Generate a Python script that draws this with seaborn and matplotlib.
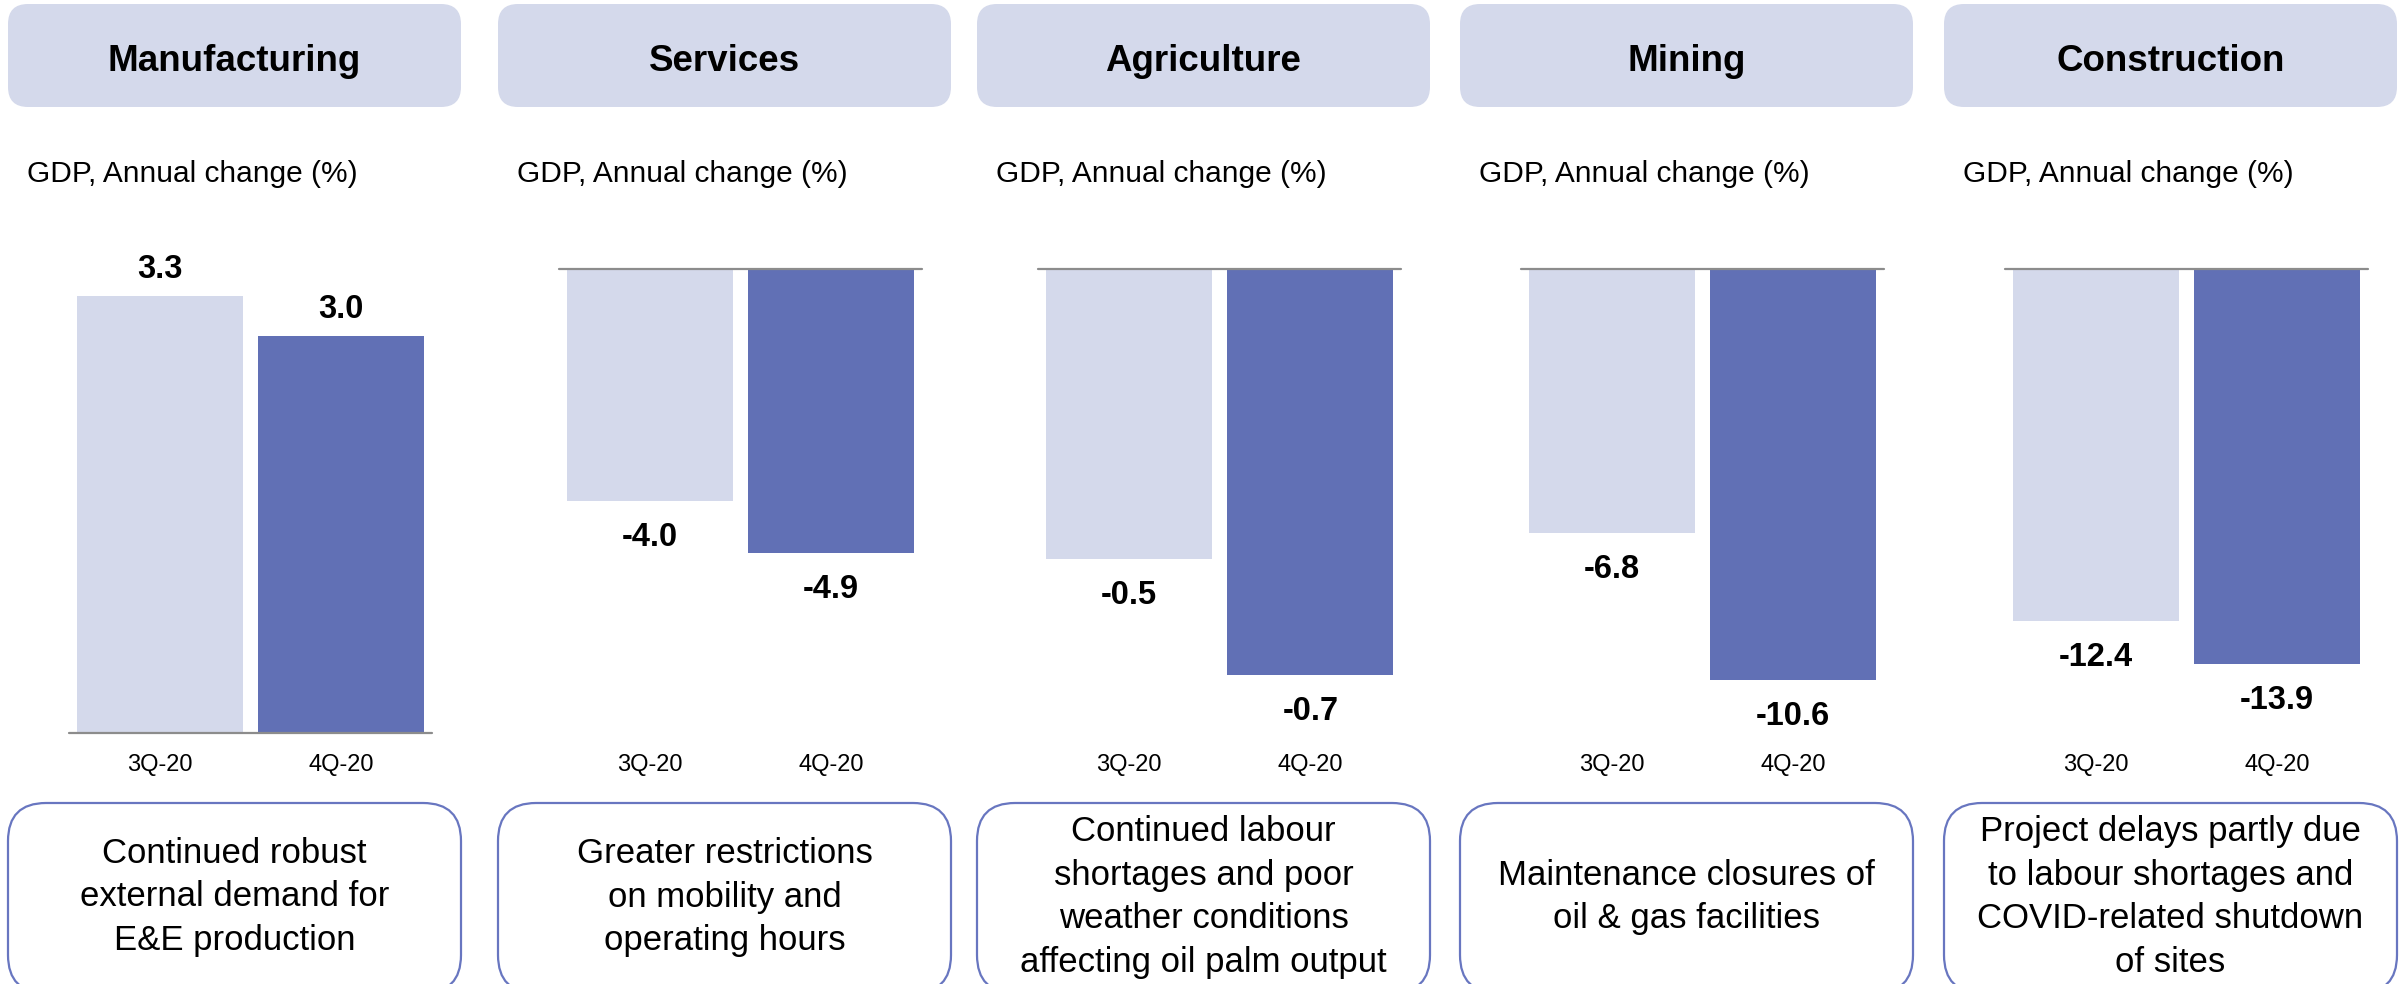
import matplotlib
matplotlib.use("Agg")
import matplotlib.pyplot as plt
from matplotlib.patches import FancyBboxPatch
from matplotlib.transforms import blended_transform_factory
import seaborn as sns

# ---- data -------------------------------------------------------------
sectors = ["Manufacturing", "Services", "Agriculture", "Mining", "Construction"]
quarters = ["3Q-20", "4Q-20"]
q3_growth = [3.3, -4.0, -0.5, -6.8, -12.4]
q4_growth = [3.0, -4.9, -0.7, -10.6, -13.9]
notes = [
    "Continued robust\nexternal demand for\nE&E production",
    "Greater restrictions\non mobility and\noperating hours",
    "Continued labour\nshortages and poor\nweather conditions\naffecting oil palm output",
    "Maintenance closures of\noil & gas facilities",
    "Project delays partly due\nto labour shortages and\nCOVID-related shutdown\nof sites",
]
subtitle = "GDP, Annual change (%)"

# ---- layout (pixels) --------------------------------------------------
W, H, DPI = 2405, 984, 100
axis_left = [69, 559, 1038, 1521, 2005]      # left end of each baseline
axis_width = 363
plot_top, plot_bottom = 269, 733             # vertical band for the bars
fill = [0.942, 0.612, 0.875, 0.886, 0.851]  # share of the band used by the longest bar
box_w = 453

LIGHT = "#D4D9EB"
DARK = "#6170B5"
BORDER = "#6876C0"
AXIS = "#8C8C8C"

sns.set_style("white")
plt.rcParams["font.family"] = ["Liberation Sans", "DejaVu Sans"]
plt.rcParams["text.color"] = "black"

fig = plt.figure(figsize=(W / DPI, H / DPI), dpi=DPI)
fig.patch.set_facecolor("white")

# overlay axes in pixel coordinates for boxes and headings
ov = fig.add_axes([0, 0, 1, 1], zorder=0)
ov.set_xlim(0, W)
ov.set_ylim(H, 0)
ov.axis("off")

px2pt = 72 / DPI

for k, sector in enumerate(sectors):
    centre = axis_left[k] + axis_width / 2 - 16
    bx = centre - box_w / 2

    # heading box
    ov.add_patch(FancyBboxPatch((bx, 4), box_w, 103,
                                boxstyle="round,pad=0,rounding_size=20",
                                facecolor=LIGHT, edgecolor="none"))
    ov.text(centre, 71, sector, ha="center", va="baseline",
            fontsize=26.5, fontweight="bold", color="black")
    ov.text(bx + 19, 182, subtitle, ha="left", va="baseline",
            fontsize=21.5, color="black")

    # commentary box
    ov.add_patch(FancyBboxPatch((bx, 803), box_w, 190,
                                boxstyle="round,pad=0,rounding_size=38",
                                facecolor="white", edgecolor=BORDER, linewidth=1.6))
    ov.text(centre, 897, notes[k], ha="center", va="center",
            fontsize=25, color="black", linespacing=1.40)

    # bar chart
    vals = [q3_growth[k], q4_growth[k]]
    ax = fig.add_axes([axis_left[k] / W, 1 - plot_bottom / H,
                       axis_width / W, (plot_bottom - plot_top) / H], zorder=2)
    ax.set_facecolor("none")
    sns.barplot(x=quarters, y=vals, hue=quarters, palette=[LIGHT, DARK],
                width=0.912, saturation=1, linewidth=0, legend=False, ax=ax)
    ax.set_xlim(-0.5, 1.5)
    extreme = max(vals, key=abs)
    if extreme > 0:
        ax.set_ylim(0, extreme / fill[k])
    else:
        ax.set_ylim(extreme / fill[k], 0)
    ax.axis("off")
    ax.axhline(0, color=AXIS, linewidth=1.6, clip_on=False, zorder=3)

    for i, v in enumerate(vals):
        if v >= 0:
            ax.annotate(f"{v:.1f}", (i, v), xytext=(0, 18 * px2pt),
                        textcoords="offset points", ha="center", va="baseline",
                        fontsize=23.5, fontweight="bold", color="black")
        else:
            ax.annotate(f"{v:.1f}", (i, v), xytext=(0, -21 * px2pt),
                        textcoords="offset points", ha="center", va="top",
                        fontsize=23.5, fontweight="bold", color="black")

    tr = blended_transform_factory(ax.transData, ov.transData)
    for i, q in enumerate(quarters):
        ax.text(i, 771, q, transform=tr, ha="center", va="baseline",
                fontsize=17, color="black", clip_on=False)

fig.savefig("out.png", dpi=DPI, facecolor="white")
